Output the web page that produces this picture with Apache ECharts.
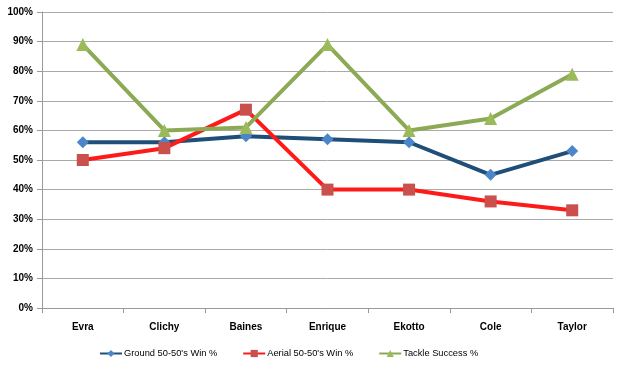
<!DOCTYPE html>
<html><head><meta charset="utf-8">
<script src="https://cdn.jsdelivr.net/npm/echarts@6/dist/echarts.min.js"></script>
<style>html,body{margin:0;padding:0;background:#fff}#c{width:630px;height:370px}</style>
</head><body><div id="c"></div>
<script>
var categories = ["Evra","Clichy","Baines","Enrique","Ekotto","Cole","Taylor"];
var ground = [56,56,58,57,56,45,53];
var aerial = [50,54,67,40,40,36,33];
var tackle = [89,60,61,89,60,64,79];
var seriesNames = ["Ground 50-50's Win %","Aerial 50-50's Win %","Tackle Success %"];

var chart = echarts.init(document.getElementById('c'));
var font = "Liberation Sans, Arial, sans-serif";
function mk(name, data, lineColor, markColor, symbol, size){
  return {name:name, type:'line', data:data, symbol:symbol, symbolSize:size,
    lineStyle:{color:lineColor, width:4}, itemStyle:{color:markColor},
    color:lineColor, animation:false};
}
chart.setOption({
  animation:false,
  grid:{left:42,right:17,top:12,bottom:62},
  legend:{top:344, left:94, itemGap:25, itemWidth:22, itemHeight:9,
    textStyle:{fontFamily:font,fontSize:9.3,color:'#000', padding:[0,0,0,-3]},
    data:seriesNames},
  xAxis:{type:'category', data:categories, boundaryGap:true,
    axisLine:{lineStyle:{color:'#999',width:1}},
    axisTick:{show:true, length:5, alignWithLabel:false, lineStyle:{color:'#999'}},
    axisLabel:{fontFamily:font, fontWeight:'bold', fontSize:10, color:'#000', margin:14}},
  yAxis:{type:'value', min:0, max:100, interval:10,
    axisLine:{show:true, lineStyle:{color:'#999'}},
    axisTick:{show:true, length:5, inside:false, lineStyle:{color:'#999'}},
    splitLine:{lineStyle:{color:'#aaa',width:1}},
    axisLabel:{fontFamily:font, fontWeight:'bold', fontSize:10, color:'#000', margin:9,
      formatter:function(v){return v+'%';}}},
  series:[
    mk(seriesNames[0], ground, '#1F4E79', '#4A86C8', 'diamond', 12),
    mk(seriesNames[1], aerial, '#FF1A1A', '#C9504D', 'rect', 12),
    mk(seriesNames[2], tackle, '#8CAA55', '#9BBB59', 'triangle', 13)
  ]
});
</script></body></html>
